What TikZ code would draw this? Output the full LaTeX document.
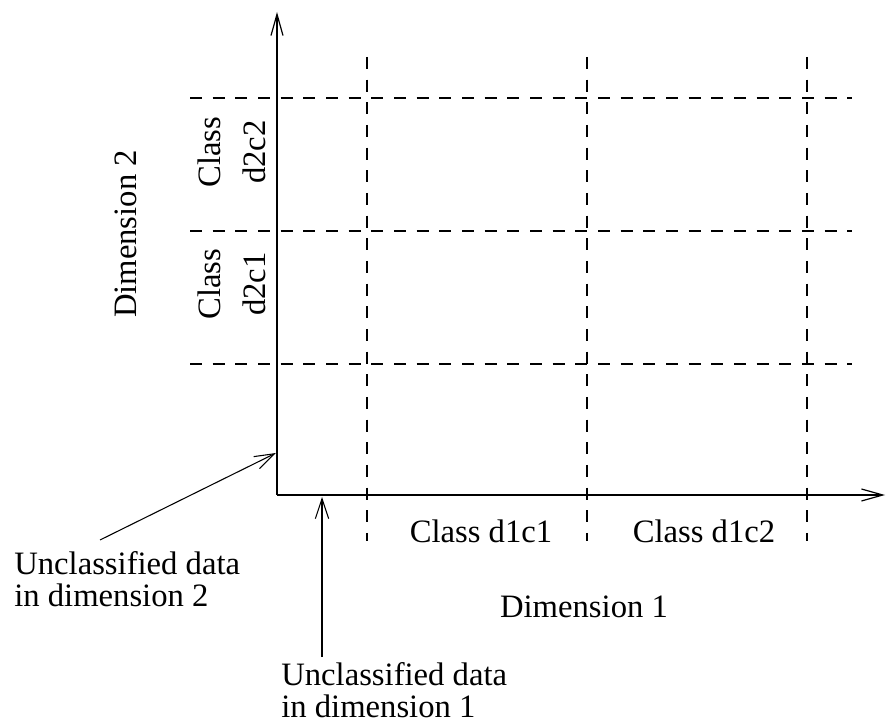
\documentclass[tikz,border=0pt]{standalone}
\usepackage{fontspec}
\setmainfont{Liberation Serif}
\usetikzlibrary{arrows.meta}
\newcommand{\lblfont}{\fontsize{24.5}{24}\selectfont}
\newcommand{\clsfont}{\fontsize{24.5}{34}\selectfont}

\begin{document}
\begin{tikzpicture}[x=0.75pt,y=0.75pt,yscale=-1.0,xscale=1.0,
  grid/.style={line width=0.9pt,dash pattern=on 9pt off 8pt},
  axis/.style={line width=0.9pt,-{Straight Barb[length=16pt,width=9pt]}},
  pointer/.style={line width=0.8pt,-{Straight Barb[length=15pt,width=10pt]}}]
\useasboundingbox (0,0) rectangle (886,723);
% axes
\coordinate (O) at (277,495);
\coordinate (ytop) at (277,12);
\coordinate (xend) at (885,495);
\draw [axis] (O) -- (ytop);
\draw [axis] (O) -- (xend);
% class borders
\foreach \x in {367,587,807} \draw [grid] (\x,57) -- (\x,541);
\foreach \y in {98,231,364} \draw [grid] (190,\y) -- (852,\y);
% class labels
\draw (481,542) node [anchor=base][inner sep=0.75pt]  [font=\lblfont] (d1c1) {Class d1c1};
\draw (704,542) node [anchor=base][inner sep=0.75pt]  [font=\lblfont] (d1c2) {Class d1c2};
\draw (232,152) node [rotate=90,align=center][inner sep=0.75pt]  [font=\clsfont] (d2c2) {Class\\d2c2};
\draw (232,284) node [rotate=90,align=center][inner sep=0.75pt]  [font=\clsfont] (d2c1) {Class\\d2c1};
% dimensions
\draw (584,618) node [anchor=base][inner sep=0.75pt]  [font=\lblfont] (dim1) {Dimension 1};
\draw (126,234) node [rotate=90][inner sep=0.75pt]  [font=\lblfont] (dim2) {Dimension 2};
% unclassified (base = last line)
\draw (13,606) node [anchor=base west,align=left][inner sep=0.75pt]  [font=\lblfont] (un2) {Unclassified data\\in dimension 2};
\draw (280,717) node [anchor=base west,align=left][inner sep=0.75pt]  [font=\lblfont] (un1) {Unclassified data\\in dimension 1};
\coordinate (un2tail) at (100,540);
\coordinate (un2head) at (276,453);
\coordinate (un1tail) at (322,657);
\coordinate (un1head) at (322,497);
\draw [pointer] (un2tail) -- (un2head);
\draw [pointer] (un1tail) -- (un1head);
\end{tikzpicture}
\end{document}
